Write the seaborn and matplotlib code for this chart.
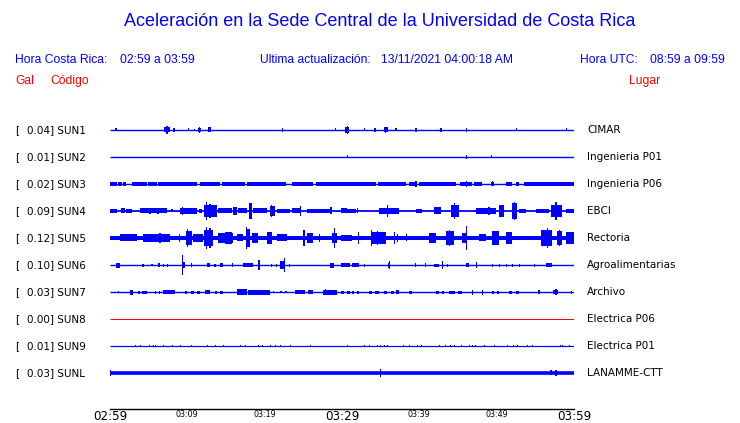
import numpy as np
import pandas as pd
import matplotlib
matplotlib.use('Agg')
import matplotlib.pyplot as plt
import seaborn as sns

sns.set_style('white')
plt.rcParams['font.family'] = ['DejaVu Sans']
plt.rcParams['text.color'] = 'black'
plt.rcParams['xtick.color'] = 'black'

# Stations, peak acceleration (Gal) and site names
codes = ['SUN1', 'SUN2', 'SUN3', 'SUN4', 'SUN5', 'SUN6', 'SUN7', 'SUN8', 'SUN9', 'SUNL']
gal = ['0.04', '0.01', '0.02', '0.09', '0.12', '0.10', '0.03', '0.00', '0.01', '0.03']
places = ['CIMAR', 'Ingenieria P01', 'Ingenieria P06', 'EBCI', 'Rectoria',
          'Agroalimentarias', 'Archivo', 'Electrica P06', 'Electrica P01', 'LANAMME-CTT']
trace_colors = ['blue'] * 7 + ['red'] + ['blue'] * 2

# background noise half-amplitude of each trace (display units)
noise = [0.7, 0.7, 0.7, 0.9, 2.0, 0.7, 0.7, 0.5, 0.6, 1.8]

# bursts: (start minute, end minute, half-amplitude)
sun1 = [(0.7, 0.85, 1.5), (7.0, 7.8, 2.5), (7.3, 7.45, 4), (8.2, 8.35, 2), (10.1, 10.25, 1.5),
        (10.9, 11.05, 1.2), (11.4, 11.8, 2), (11.5, 11.65, 3), (12.7, 13.1, 2.5), (22.2, 22.35, 2),
        (29.1, 29.25, 1.5), (30.4, 30.9, 3), (30.6, 30.75, 4), (32.8, 32.95, 1.5), (34.2, 34.35, 2),
        (35.4, 35.9, 2.5), (35.6, 35.75, 3), (36.9, 37.05, 1.5), (39.5, 39.65, 2), (42.7, 42.9, 2),
        (46.0, 46.15, 2), (52.5, 52.65, 1.5), (59.0, 59.15, 1.5)]
sun2 = [(30.6, 30.75, 1.5), (46.0, 46.15, 2), (49.3, 49.45, 1.5)]
sun3 = [(0, 0.9, 1.6), (1.0, 1.5, 1.6), (1.7, 2.1, 1.6), (2.8, 4.8, 1.6), (4.9, 6.1, 1.6),
        (6.2, 11.2, 1.6), (11.6, 14.2, 1.6), (14.5, 17.4, 1.6), (17.7, 22.2, 1.6), (22.3, 22.8, 1.6),
        (23.5, 26.2, 1.6), (26.7, 30.7, 1.6), (30.7, 34.4, 1.6), (34.6, 38.3, 1.6), (38.7, 39.6, 1.6),
        (40.0, 44.8, 1.6), (45.2, 46.8, 1.6), (47.1, 48.1, 1.6), (49.3, 49.7, 1.6), (51.2, 52.0, 1.6),
        (52.5, 52.9, 1.6), (53.5, 60.0, 1.6), (39.5, 39.65, 3), (46.0, 46.15, 3), (49.4, 49.55, 2.5)]
sun4 = [(0, 0.9, 2), (1.42, 1.94, 2.5), (2.06, 2.84, 2), (3.87, 7.35, 2.5), (5.1, 5.3, 3),
        (6.1, 6.3, 3), (7.95, 8.1, 1.5), (9.03, 11.23, 3), (9.35, 9.5, 4), (11.48, 11.87, 2),
        (12.13, 13.81, 6), (12.45, 12.6, 9), (12.8, 13.0, 7), (13.94, 15.74, 2.5), (15.87, 16.39, 4),
        (16.52, 17.68, 2.5), (17.94, 18.32, 8), (18.45, 20.26, 2.5), (20.65, 21.29, 5),
        (20.85, 21.0, 6), (21.55, 23.23, 2), (23.48, 24.52, 2.5), (24.6, 24.75, 5), (25.42, 28.39, 2),
        (28.39, 28.77, 3.5), (29.81, 30.71, 2.5), (30.71, 31.87, 2), (31.95, 32.1, 2.5),
        (34.84, 37.42, 3), (35.8, 35.95, 6), (39.61, 40.39, 2), (41.94, 42.84, 3.5), (44.13, 45.16, 6),
        (44.45, 44.6, 8), (47.35, 49.94, 3), (48.9, 49.1, 4), (50.32, 50.97, 6), (52.0, 52.65, 8),
        (52.2, 52.35, 9), (52.9, 53.81, 2), (55.1, 56.77, 2), (57.03, 58.45, 6), (57.6, 57.75, 9),
        (58.97, 60, 2)]
sun5 = [(1.29, 3.48, 3.5), (4.26, 7.74, 4), (6.4, 6.55, 5), (8.95, 9.1, 4), (9.81, 10.58, 7),
        (9.9, 10.05, 9), (10.71, 12.0, 4), (12.13, 13.29, 8), (12.45, 12.6, 11), (12.85, 13.0, 10),
        (13.94, 15.87, 5), (14.84, 15.74, 6), (16.39, 17.16, 3.5), (17.55, 18.06, 9), (17.6, 17.75, 11),
        (18.32, 19.1, 5), (20.26, 20.9, 6), (21.55, 22.84, 3.5), (24.9, 25.16, 8), (25.42, 26.19, 5),
        (27.05, 27.2, 4), (28.77, 29.29, 5), (28.95, 29.1, 10), (29.81, 31.35, 3), (32.05, 32.2, 6),
        (33.75, 33.9, 8), (33.94, 35.74, 6), (34.5, 34.65, 7), (36.7, 36.85, 6), (37.1, 37.25, 4),
        (38.25, 38.4, 3.5), (41.29, 42.19, 5), (43.48, 44.52, 7), (43.8, 43.95, 8), (45.55, 46.19, 5),
        (46.0, 46.15, 12), (47.74, 48.65, 3.5), (49.42, 50.32, 7), (51.23, 52.0, 6), (55.74, 57.16, 8),
        (56.45, 56.6, 10), (57.81, 58.45, 7), (58.0, 58.15, 8), (58.97, 60, 6)]
sun6 = [(0.77, 1.29, 2.5), (4.2, 4.35, 1.5), (5.35, 5.5, 1), (6.19, 6.45, 2), (6.8, 6.95, 1.5),
        (7.4, 7.55, 1.5), (9.29, 9.68, 3), (9.35, 9.5, 10), (10.5, 10.65, 2), (12.52, 12.9, 2),
        (13.5, 13.65, 1.5), (14.19, 14.58, 2), (15.8, 15.95, 2), (17.16, 18.45, 2), (19.1, 19.35, 5),
        (20.85, 21.0, 1.5), (21.5, 21.65, 1.5), (21.94, 22.45, 4), (22.5, 22.65, 7), (23.15, 23.3, 1.5),
        (28.39, 29.03, 2.5), (29.81, 30.97, 2), (31.35, 32.26, 2), (32.85, 33.0, 1.5), (36.0, 36.26, 2.5),
        (36.05, 36.2, 4), (39.4, 39.55, 2), (40.7, 40.85, 2), (41.94, 42.58, 1.5), (42.9, 43.05, 4),
        (43.55, 43.7, 1.5), (46.06, 46.45, 2), (47.3, 47.45, 3), (49.35, 49.5, 1.5), (50.25, 50.4, 1.5),
        (51.15, 51.3, 1.5), (51.95, 52.1, 1.5), (52.85, 53.0, 1.5), (54.8, 54.95, 1.5), (56.39, 57.16, 2)]
sun7 = [(1.0, 1.1, 1), (2.58, 2.97, 2.5), (3.61, 3.9, 1.5), (4.2, 4.77, 1.5), (5.81, 6.0, 1.5),
        (6.3, 6.45, 1.5), (6.84, 8.39, 2), (9.68, 10.0, 1.5), (10.5, 10.8, 1.5), (11.2, 11.61, 1.5),
        (12.26, 12.9, 2), (13.55, 13.8, 1.5), (14.2, 14.58, 1.5), (16.39, 17.68, 3), (17.81, 20.65, 2.5),
        (21.03, 21.2, 1), (22.0, 22.2, 1), (22.6, 22.84, 1), (23.87, 25.16, 2), (25.55, 26.19, 2),
        (27.48, 29.29, 2.5), (27.8, 27.95, 3), (29.81, 30.2, 1.5), (30.6, 30.97, 1.5), (31.23, 31.6, 1.5),
        (32.0, 32.26, 1.5), (33.55, 33.9, 1.5), (34.3, 34.84, 1.5), (35.48, 35.8, 1.5), (36.3, 36.77, 1.5),
        (37.03, 37.42, 2), (38.71, 39.1, 1.5), (42.19, 42.5, 1.5), (42.9, 43.23, 1.5), (43.87, 44.6, 1.5),
        (45.0, 45.55, 1.5), (46.8, 46.95, 2.5), (48.05, 48.2, 2.5), (49.42, 49.7, 1.5), (50.0, 50.32, 1.5),
        (51.61, 52.0, 1.5), (52.5, 52.9, 1.5), (55.4, 55.55, 2), (57.3, 57.9, 2), (57.6, 57.75, 3),
        (59.65, 59.8, 1.5)]
sun8 = []
sun9_ticks = [3.23, 3.87, 5.03, 5.55, 5.81, 6.84, 8.0, 9.03, 10.45, 12.52, 13.55, 14.58, 16.77,
              17.42, 19.1, 19.61, 20.65, 21.29, 21.94, 23.23, 24.9, 25.81, 26.58, 30.71, 31.23,
              32.9, 33.55, 34.58, 34.97, 35.48, 35.87, 37.94, 38.71, 39.74, 40.26, 42.58, 43.35,
              44.0, 44.52, 45.42, 46.45, 46.84, 47.23, 48.39, 49.68, 51.35, 52.13, 52.65, 53.94,
              54.58, 58.19, 58.45, 59.35]
sun9 = [(t, t + 0.12, 1.3) for t in sun9_ticks]
sunl = [(0.0, 0.15, 3), (34.9, 35.05, 4), (56.95, 57.1, 2.5), (57.6, 57.75, 3)]
bursts = [sun1, sun2, sun3, sun4, sun5, sun6, sun7, sun8, sun9, sunl]

tick_minutes = np.arange(0, 61, 5)
tick_labels = ['02:59', '', '03:09', '', '03:19', '', '03:29', '', '03:39', '', '03:49', '', '03:59']
big_labels = ['02:59', '03:29', '03:59']

W, H = 740, 423
ROW_PX = 27.0  # pixels between traces
BLUE = '#0000ff'
RED = '#ff0000'


def fx(x):
    return x / W


def fy(y):
    return 1 - y / H


def row_of(y):
    return 1 + (y - 130) / ROW_PX


fig = plt.figure(figsize=(7.4, 4.23), dpi=100)
fig.patch.set_facecolor('white')
ax = fig.add_axes([fx(110), fy(409), fx(574) - fx(110), fy(116) - fy(409)])
ax.set_xlim(0, 60)
ax.set_ylim(row_of(409), row_of(116))

for i, code in enumerate(codes):
    row = i + 1
    c = trace_colors[i]
    base = pd.DataFrame({'minute': [0, 60], 'y': [row, row]})
    sns.lineplot(data=base, x='minute', y='y', ax=ax, color=c,
                 linewidth=2 * noise[i] * 0.72, solid_capstyle='butt')
    if bursts[i]:
        b = np.array(bursts[i], dtype=float)
        amp = b[:, 2] / ROW_PX
        ax.bar(b[:, 0], 2 * amp, width=b[:, 1] - b[:, 0], bottom=row - amp,
               align='edge', color=c, linewidth=0)
    fig.text(fx(15), fy(130 + i * ROW_PX), '[', fontsize=7.5, va='center', ha='left')
    fig.text(fx(27), fy(130 + i * ROW_PX), gal[i] + '] ' + code, fontsize=7.5, va='center', ha='left')
    fig.text(fx(587), fy(130 + i * ROW_PX), places[i], fontsize=7.5, va='center', ha='left')

ax.set_xlabel('')
ax.set_ylabel('')
ax.set_yticks([])
ax.set_xticks(tick_minutes)
ax.set_xticklabels(tick_labels)
for lab in ax.get_xticklabels():
    lab.set_fontsize(8.6 if lab.get_text() in big_labels else 5.8)
ax.tick_params(axis='x', direction='in', length=5.2, width=1, pad=0.5, colors='black')
for side in ['top', 'left', 'right']:
    ax.spines[side].set_visible(False)
ax.spines['bottom'].set_color('black')
ax.spines['bottom'].set_linewidth(1)
ax.patch.set_alpha(0)

head = ['Liberation Sans', 'DejaVu Sans']
fig.text(fx(380), fy(22), 'Aceleración en la Sede Central de la Universidad de Costa Rica',
         fontsize=13, color=BLUE, ha='center', va='center', family=head)
fig.text(fx(15), fy(60), 'Hora Costa Rica:', fontsize=8.7, color=BLUE, va='center', family=head)
fig.text(fx(120), fy(60), '02:59 a 03:59', fontsize=8.7, color=BLUE, va='center', family=head)
fig.text(fx(260), fy(60), 'Ultima actualización:', fontsize=8.7, color=BLUE, va='center', family=head)
fig.text(fx(381), fy(60), '13/11/2021 04:00:18 AM', fontsize=8.7, color=BLUE, va='center', family=head)
fig.text(fx(580), fy(60), 'Hora UTC:', fontsize=8.7, color=BLUE, va='center', family=head)
fig.text(fx(650), fy(60), '08:59 a 09:59', fontsize=8.7, color=BLUE, va='center', family=head)
fig.text(fx(15), fy(81), 'Gal', fontsize=8.7, color=RED, va='center', family=head)
fig.text(fx(50), fy(81), 'Código', fontsize=8.7, color=RED, va='center', family=head)
fig.text(fx(629), fy(81), 'Lugar', fontsize=8.7, color=RED, va='center', family=head)

fig.savefig('out.png', dpi=100, facecolor='white')
